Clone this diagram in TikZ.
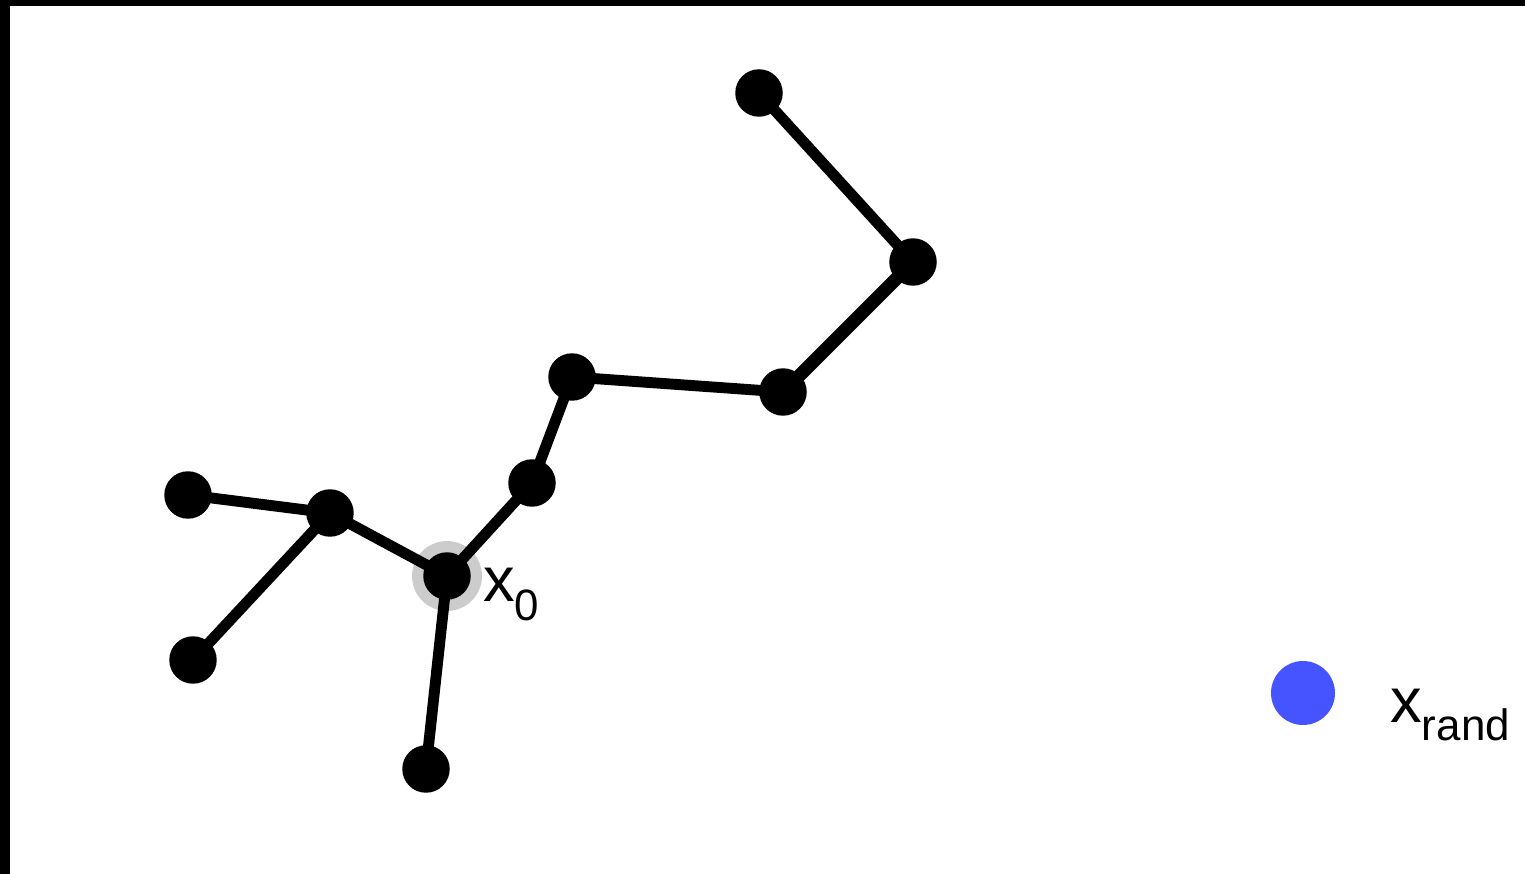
\documentclass[tikz,border=0pt]{standalone}
\usepackage{fontspec}
\setmainfont{Liberation Sans}
\usetikzlibrary{positioning}

\newcommand{\bigfont}{\fontsize{36}{40}\selectfont}
\newcommand{\subfont}{\fontsize{25}{30}\selectfont}

\begin{document}
\begin{tikzpicture}[
  x=0.02cm, y=-0.02cm,
  dot/.style={circle, fill=black, inner sep=0pt, minimum size=0.95cm},
  halo/.style={circle, fill=black!20, inner sep=0pt, minimum size=1.4cm},
  target/.style={circle, fill={rgb,255:red,69;green,84;blue,255}, inner sep=0pt, minimum size=1.28cm},
  lbl/.style={anchor=base west, inner sep=0pt, font=\bigfont},
  edge/.style={line width=6.2pt, shorten <=-8pt, shorten >=-8pt}
]
  \useasboundingbox (0,0) rectangle (1525,874);
  % screen edges
  \fill[black] (0,0) rectangle (1525,6);
  \fill[black] (0,0) rectangle (10,874);

  \node[halo] (x0h) at (447,576) {};
  \node[dot] (x0) at (447,576) {};
  \node[dot] (a1) at (532,483) {};
  \node[dot] (a2) at (572,377) {};
  \node[dot] (a3) at (783,392) {};
  \node[dot] (a4) at (913,262) {};
  \node[dot] (a5) at (759,93)  {};
  \node[dot] (b1) at (330,513) {};
  \node[dot] (b2) at (188,495) {};
  \node[dot] (b3) at (193,660) {};
  \node[dot] (c1) at (426,769) {};

  \node[target] (xr) at (1303,693) {};

  \node[lbl] (x0lbl) at (483,602) {x\raisebox{-0.3em}{\subfont 0}};
  \node[lbl] (xrlbl) at (1390,722) {x\raisebox{-0.3em}{\subfont rand}};

  \draw[edge] (x0) -- (a1);
  \draw[edge] (a1) -- (a2);
  \draw[edge] (a2) -- (a3);
  \draw[edge, line width=7.5pt] (a3) -- (a4);
  \draw[edge] (a4) -- (a5);
  \draw[edge] (x0) -- (b1);
  \draw[edge] (b1) -- (b2);
  \draw[edge] (b1) -- (b3);
  \draw[edge] (x0) -- (c1);
\end{tikzpicture}
\end{document}
